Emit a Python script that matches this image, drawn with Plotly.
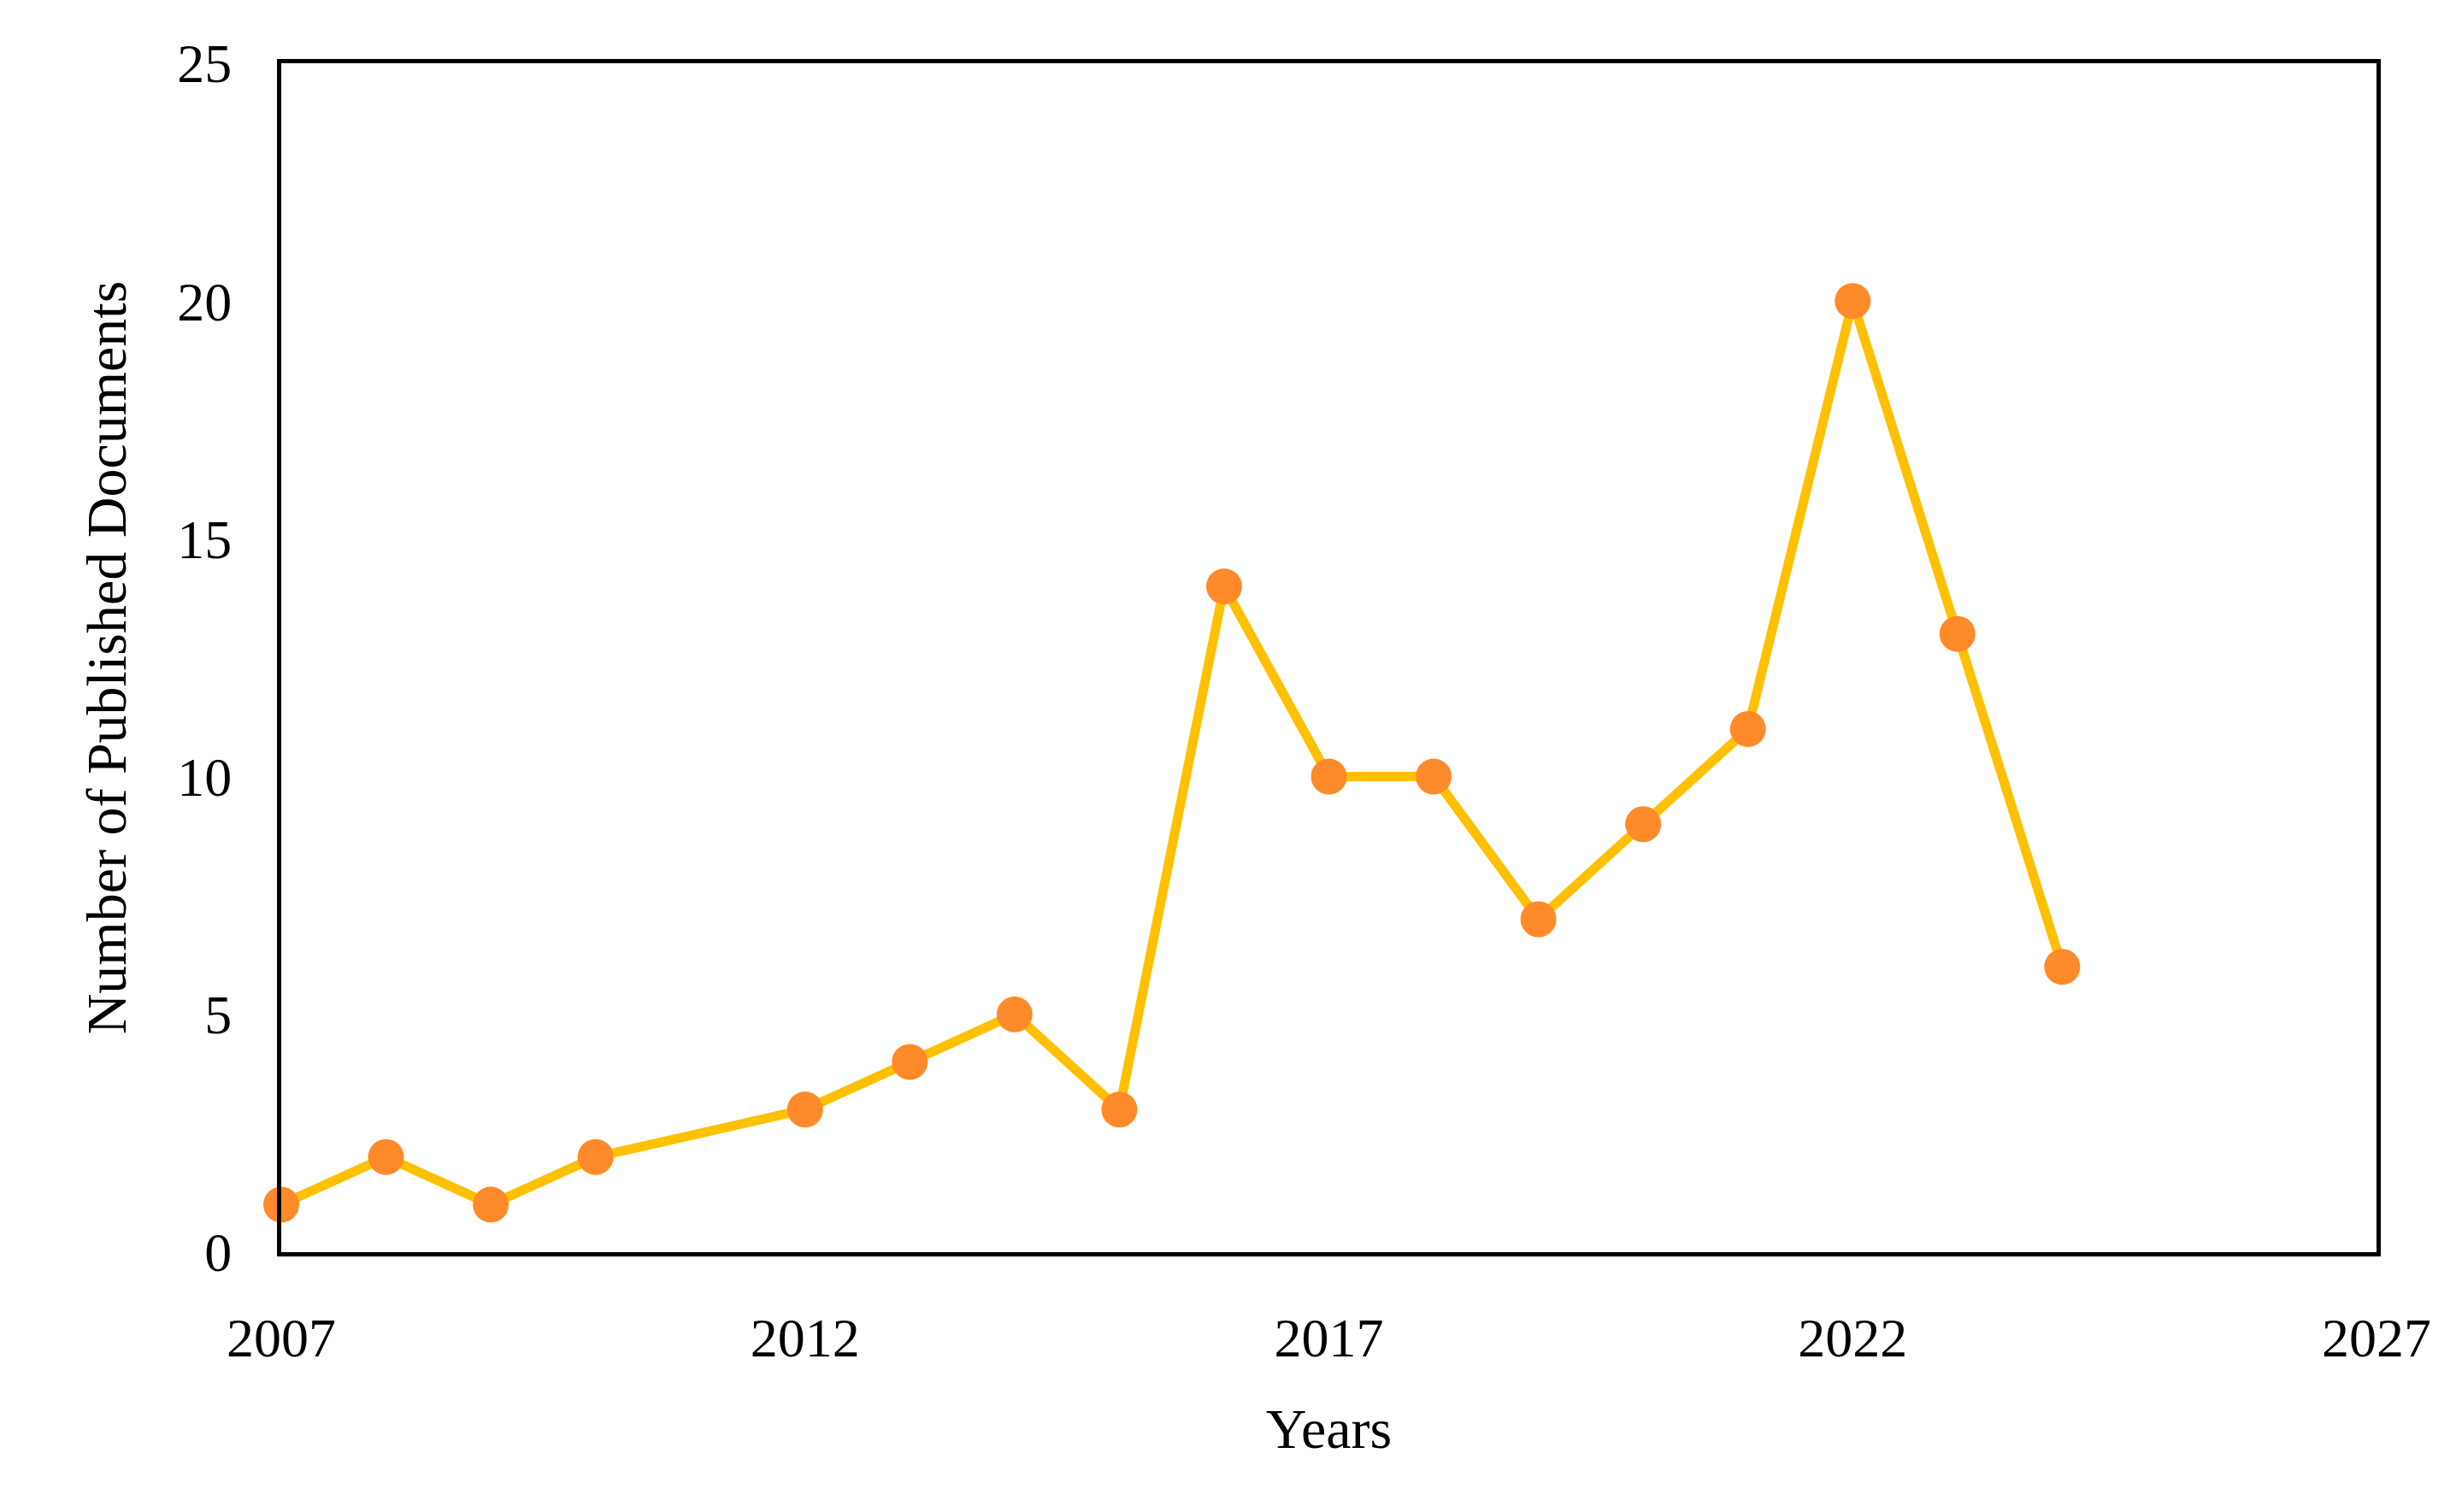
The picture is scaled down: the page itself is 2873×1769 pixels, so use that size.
import plotly.graph_objects as go

years = [2007, 2008, 2009, 2010, 2012, 2013, 2014, 2015, 2016, 2017, 2018, 2019, 2020, 2021, 2022, 2023, 2024]
docs = [1, 2, 1, 2, 3, 4, 5, 3, 14, 10, 10, 7, 9, 11, 20, 13, 6]

font = "Liberation Serif"
fig = go.Figure(go.Scatter(
    x=years, y=docs, mode="lines+markers",
    line=dict(color="#FFC000", width=11),
    marker=dict(color="#FF8A2A", size=42),
    cliponaxis=False,
))
fig.update_layout(
    width=2873, height=1769, paper_bgcolor="white", plot_bgcolor="white",
    margin=dict(l=321, r=101, t=66, b=312),
    showlegend=False,
    font=dict(family=font, size=64, color="black"),
)
axis = dict(showgrid=False, zeroline=False, showline=True, linecolor="black", linewidth=5,
            mirror=True, ticks="", tickfont=dict(family=font, size=64, color="black"))
fig.update_xaxes(range=[2007, 2027], tickvals=[2007, 2012, 2017, 2022, 2027], ticklabelstandoff=40,
                 title=dict(text="Years", font=dict(family=font, size=66), standoff=50), **axis)
fig.update_yaxes(range=[0, 25], tickvals=[0, 5, 10, 15, 20, 25], ticklabelstandoff=40,
                 title=dict(text="Number of Published Documents", font=dict(family=font, size=66), standoff=40), **axis)
fig.write_html("out.html")
